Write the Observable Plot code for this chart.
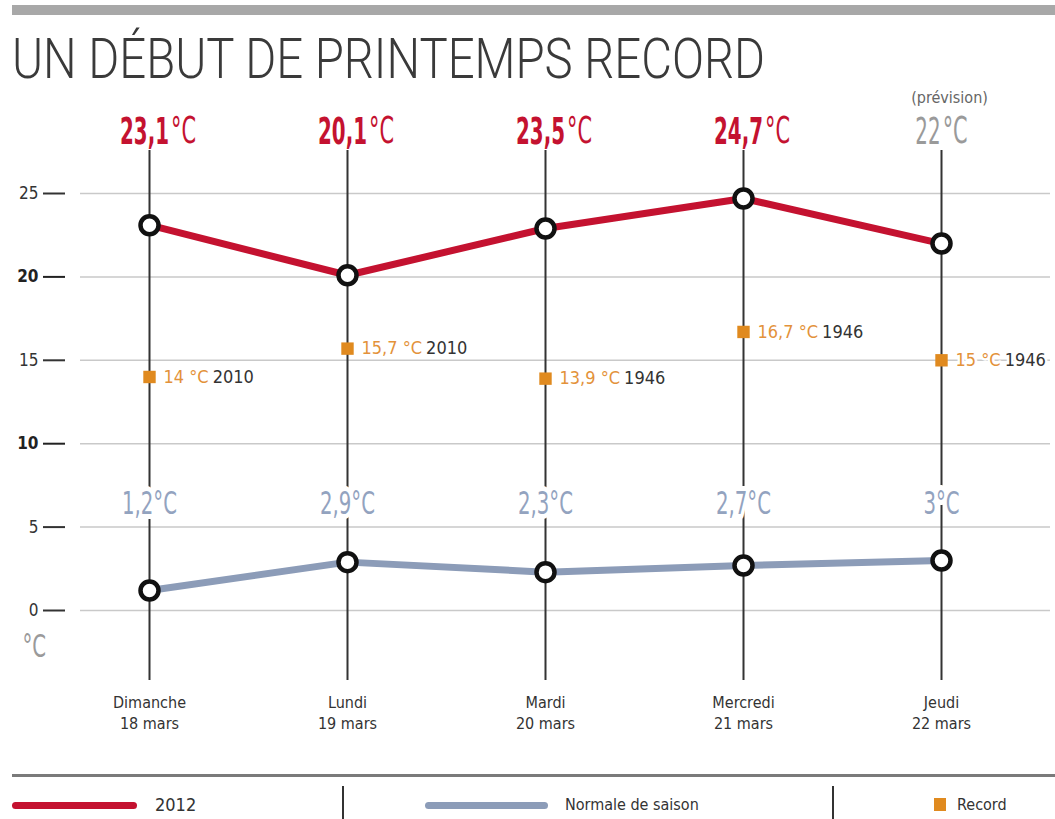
<!DOCTYPE html>
<html><head><meta charset="utf-8">
<script src="https://cdn.jsdelivr.net/npm/d3@7"></script>
<script src="https://cdn.jsdelivr.net/npm/@observablehq/plot@0.6"></script>
<style>
body{margin:0;background:#fff;width:1055px;height:819px;overflow:hidden;position:relative;font-family:"DejaVu Sans Condensed","DejaVu Sans",sans-serif;}
#topbar{position:absolute;left:12px;top:5px;width:1043px;height:10px;background:#a8a8a8}
#title{position:absolute;left:12px;top:31px;font-family:Roboto,"Open Sans",sans-serif;font-size:56px;font-weight:300;color:#3a3a3a;white-space:nowrap;transform-origin:0 0;line-height:1}
#chart{position:absolute;left:0;top:85px}
.abs{position:absolute}
.lt{position:absolute;top:793px;font-size:18px;color:#333;line-height:24px;white-space:nowrap}
</style></head>
<body>
<div id="topbar"></div>
<div id="title">UN DÉBUT DE PRINTEMPS RECORD</div>
<div id="chart"></div>
<div class="abs" style="left:12px;top:774px;width:1043px;height:3px;background:#7a7a7a"></div>
<div class="abs" style="left:12px;top:802px;width:125px;height:7px;background:#c41230;border-radius:4px"></div>
<div class="lt" style="left:155px">2012</div>
<div class="abs" style="left:342px;top:786px;width:2px;height:33px;background:#333"></div>
<div class="abs" style="left:425px;top:802px;width:123px;height:7px;background:#8c9cb8;border-radius:4px"></div>
<div class="lt" style="left:565px;font-size:16px">Normale de saison</div>
<div class="abs" style="left:832px;top:786px;width:2px;height:33px;background:#333"></div>
<div class="abs" style="left:934px;top:798px;width:12px;height:13px;background:#e08a1f"></div>
<div class="lt" style="left:957px;font-size:16px">Record</div>
<script>
// ---- data ----
const days = ["Dimanche\n18 mars","Lundi\n19 mars","Mardi\n20 mars","Mercredi\n21 mars","Jeudi\n22 mars"];
const temp2012 = [23.1, 20.1, 22.9, 24.7, 22.0];
const labels2012 = ["23,1","20,1","23,5","24,7","22"];
const isForecast = [false,false,false,false,true];
const normals = [1.2, 2.9, 2.3, 2.7, 3.0];
const normalLabels = ["1,2","2,9","2,3","2,7","3"];
const records = [14, 15.7, 13.9, 16.7, 15];
const recordLabels = ["14","15,7","13,9","16,7","15"];
const recordYears = ["2010","2010","1946","1946","1946"];
const yTicks = [0,5,10,15,20,25];
const yTicksBold = [10,20];
const yTicksNormal = [0,5,15,25];

// fit title width
const t = document.getElementById("title");
t.style.transform = `scaleX(${753 / t.getBoundingClientRect().width})`;

const FONT = '"DejaVu Sans Condensed","DejaVu Sans",sans-serif';
const cv = document.createElement("canvas").getContext("2d");
const tw = (s, f) => { cv.font = f; return cv.measureText(s).width; };

const RED = "#c41230", BLUE = "#8c9cb8", ORANGE = "#e08a1f";
const s2012 = days.map((d,i) => ({day:d, v:temp2012[i], lab:labels2012[i], fc:isForecast[i]}));
const sNorm = days.map((d,i) => ({day:d, v:normals[i], lab:normalLabels[i]}));
const sRec = days.map((d,i) => ({day:d, v:records[i], lab:recordLabels[i], yr:recordYears[i]}));

// horizontal squeeze factors (narrow font look)
const FS_NUM = 38, FS_UNIT = 37, FS_LOW = 32;
const sxNum = 49 / tw("23,1", `bold ${FS_NUM}px ${FONT}`);
const sxUnit = 25 / tw("°C", `200 ${FS_UNIT}px ${FONT}`);
const sxLow = 55 / tw("1,2°C", `200 ${FS_LOW}px ${FONT}`);

const marks = [
  Plot.ruleY(yTicks, {stroke:"#c9c9c9", strokeWidth:1.5}),
  Plot.axisY({ticks:yTicksNormal, tickSize:22, dx:-15, tickPadding:5, fontSize:17, color:"#333", strokeWidth:2, label:null}),
  Plot.axisY({ticks:yTicksBold, tickSize:22, dx:-15, tickPadding:5, fontSize:17, fontWeight:"bold", color:"#222", strokeWidth:2, label:null}),
  Plot.ruleX(days, {stroke:"#333", strokeWidth:2}),
  Plot.line(s2012, {x:"day", y:"v", stroke:RED, strokeWidth:7}),
  Plot.line(sNorm, {x:"day", y:"v", stroke:BLUE, strokeWidth:7}),
  Plot.dot(s2012, {x:"day", y:"v", r:9, fill:"white", stroke:"#111", strokeWidth:4.5}),
  Plot.dot(sNorm, {x:"day", y:"v", r:9, fill:"white", stroke:"#111", strokeWidth:4.5}),
  Plot.text(sNorm, {x:"day", y:() => 0, dy:-107, text:d => d.lab + "°C", fontSize:FS_LOW, fontWeight:200, fill:"#93a3bf", stroke:"white", strokeWidth:10}),
  Plot.dot(sRec, {x:"day", y:"v", symbol:"square", r:7, fill:ORANGE}),
  Plot.text([0], {y:d => d, frameAnchor:"left", dx:-58, dy:36, lineAnchor:"middle", textAnchor:"start", text:() => "°C", fontSize:FS_LOW, fontWeight:200, fill:"#9a9a9a"}),
  Plot.text(days, {x:d => d, frameAnchor:"bottom", dy:12, lineAnchor:"top", fontSize:16, fill:"#333", lineHeight:1.35}),
  Plot.text(s2012.filter(d => d.fc), {x:"day", frameAnchor:"top", lineAnchor:"middle", dy:-53, dx:8, text:() => "(prévision)", fontSize:16, fill:"#666"})
];

// top value labels: bold number + light unit
s2012.forEach(d => {
  const wn = tw(d.lab, `${d.fc ? "200" : "bold"} ${FS_NUM}px ${FONT}`) * sxNum;
  const wu = tw("°C", `200 ${FS_UNIT}px ${FONT}`) * sxUnit;
  const numCenter = d.fc ? -(wn + 2 + wu) / 2 + wn / 2 : -5;
  const col = d.fc ? "#9a9a9a" : RED;
  marks.push(Plot.text([d], {x:"day", frameAnchor:"top", lineAnchor:"middle", dy:-19, text:"lab", textAnchor:"middle", dx:numCenter, fontSize:FS_NUM, fontWeight:d.fc ? 200 : "bold", fill:col}));
  marks.push(Plot.text([d], {x:"day", frameAnchor:"top", lineAnchor:"middle", dy:-19, text:() => "°C", textAnchor:"start", dx:numCenter + wn / 2 + 2, fontSize:FS_UNIT, fontWeight:200, fill:col}));
});

// record labels: orange value + dark year
sRec.forEach(d => {
  const lab = d.lab + " °C";
  const w = tw(lab, `18px ${FONT}`);
  marks.push(Plot.text([d], {x:"day", y:"v", text:() => lab, textAnchor:"start", dx:14, fontSize:18, fill:"#e3923a", stroke:"white", strokeWidth:5}));
  marks.push(Plot.text([d], {x:"day", y:"v", text:"yr", textAnchor:"start", dx:14 + w + 4, fontSize:18, fill:"#333", stroke:"white", strokeWidth:5}));
});

const chart = Plot.plot({
  width:1055, height:660,
  marginLeft:80, marginRight:5, marginTop:65, marginBottom:65,
  style:{fontFamily:FONT, background:"white", overflow:"visible"},
  x:{type:"point", domain:days, range:[148, 942], padding:0, axis:null},
  y:{domain:[0,25], range:[525,108], axis:null},
  marks
});

// squeeze selected text groups horizontally around their anchors
const factors = {[FS_NUM]: sxNum, [FS_UNIT]: sxUnit, [FS_LOW]: sxLow};
chart.querySelectorAll("g[font-size]").forEach(g => {
  const f = factors[parseFloat(g.getAttribute("font-size"))];
  if (!f) return;
  g.querySelectorAll("text").forEach(el => {
    const tr = el.getAttribute("transform") || "";
    el.setAttribute("transform", `${tr} scale(${f},1)`);
  });
});
document.getElementById("chart").append(chart);
</script>
</body></html>
